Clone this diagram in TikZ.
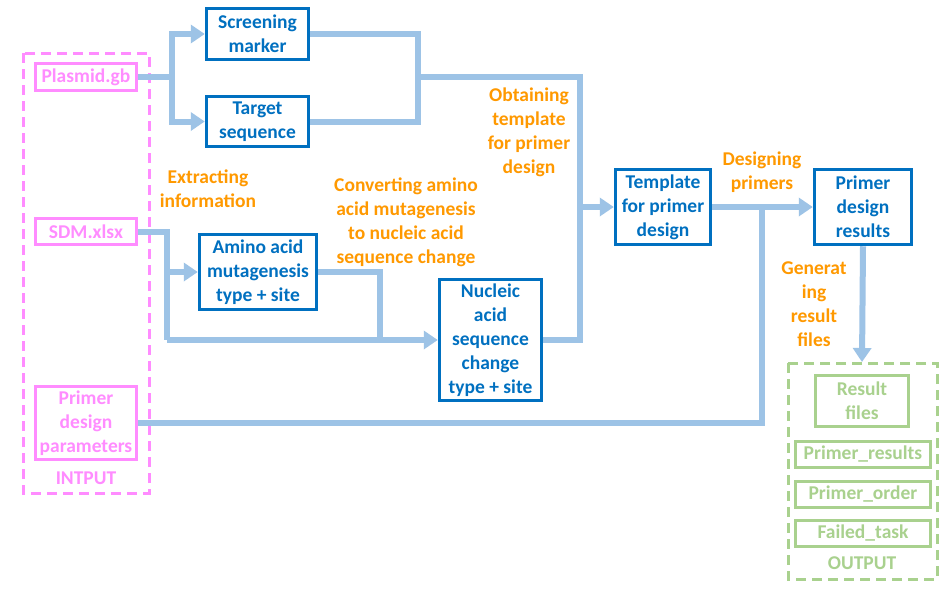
\documentclass[tikz,border=0pt]{standalone}
\usepackage{fontspec}
\setmainfont{Carlito}
\usetikzlibrary{arrows.meta}
\definecolor{nblue}{HTML}{0070C0}
\definecolor{lblue}{HTML}{9DC3E6}
\definecolor{mypink}{HTML}{FF8CFF}
\definecolor{mygreen}{HTML}{A9D18E}
\definecolor{myorange}{HTML}{FF9900}
\tikzset{
  txt/.style={font=\bfseries\fontsize{19.5}{24}\selectfont, align=center, inner sep=0pt},
  bbox/.style={txt, draw=nblue, line width=3.5pt, text=nblue},
  pbox/.style={txt, draw=mypink, line width=3.5pt, text=mypink},
  gbox/.style={txt, draw=mygreen, line width=3.5pt, text=mygreen},
  olab/.style={txt, text=myorange},
  conn/.style={draw=lblue, line width=6pt},
  arr/.style={conn, -{Triangle[length=14pt,width=18pt]}},
}
\begin{document}
\begin{tikzpicture}[x=1pt,y=-1pt]
\useasboundingbox[fill=white] (0,0) rectangle (950,592);
% dashed containers
\draw[mypink, line width=3pt, dash pattern=on 10pt off 6pt] (23,53) rectangle (149,493);
\draw[mygreen, line width=3pt, dash pattern=on 10pt off 6pt] (788,363) rectangle (937,579);
% input nodes
\node[pbox, minimum width=101, minimum height=27] (plasmid) at (86,77) {Plasmid.gb};
\node[pbox, minimum width=101, minimum height=26] (sdm) at (86,231.5) {SDM.xlsx};
\node[pbox, minimum width=101, minimum height=73] (params) at (86,423) {Primer\\design\\parameters};
\node[txt, text=mypink] (inlab) at (86,478) {INTPUT};
% process nodes
\node[bbox, minimum width=102, minimum height=51] (screen) at (257.5,34) {Screening\\marker};
\node[bbox, minimum width=102, minimum height=50] (target) at (257.5,121.5) {Target\\sequence};
\node[bbox, minimum width=117, minimum height=75] (amino) at (258,272) {Amino acid\\mutagenesis\\type + site};
\node[bbox, minimum width=102, minimum height=121] (nucleic) at (490.5,340) {Nucleic\\acid\\sequence\\change\\type + site};
\node[bbox, minimum width=95, minimum height=75] (templ) at (663,207) {Template\\for primer\\design};
\node[bbox, minimum width=97, minimum height=75] (results) at (863,207) {Primer\\design\\results};
% output nodes
\node[gbox, minimum width=93, minimum height=51] (rfiles) at (862,401) {Result\\files};
\node[gbox, minimum width=135, minimum height=26] (presults) at (863,454.5) {Primer\_results};
\node[gbox, minimum width=135, minimum height=26] (porder) at (863,494.5) {Primer\_order};
\node[gbox, minimum width=135, minimum height=26] (failed) at (863,533.5) {Failed\_task};
\node[txt, text=mygreen] (outlab) at (862,563) {OUTPUT};
% orange labels
\node[olab] (l1) at (208,189) {Extracting\\information};
\node[olab] (l2) at (406,222) {Converting amino\\acid mutagenesis\\to nucleic acid\\sequence change};
\node[olab] (l3) at (529,132) {Obtaining\\template\\for primer\\design};
\node[olab] (l4) at (762,172) {Designing\\primers};
\node[olab] (l5) at (814,304) {Generat\\ing\\result\\files};
% junctions
\coordinate (j1) at (172,77);
\coordinate (j2) at (418,77);
\coordinate (j3) at (580,77);
\coordinate (j4) at (167,232);
\coordinate (j5) at (167,340);
\coordinate (j6) at (380,340);
\coordinate (j7) at (762,209);
\coordinate (j8) at (580,340);
% connectors
\draw[conn] (plasmid.east) -- (j1);
\draw[arr] (j1) |- (screen.west);
\draw[arr] (j1) |- (target.west);
\draw[conn] (screen.east) -| (j2) |- (target.east);
\draw[conn] (j2) -- (j3) -- (j8) -- (nucleic.east);
\draw[arr] (templ.west -| j3) -- (templ.west);
\draw[conn] (sdm.east) -| (j5);
\draw[arr] (amino.west -| j4) -- (amino.west);
\draw[arr] (j5) -- (nucleic.west);
\draw[conn] (amino.east) -| (j6);
\draw[arr] (templ.east) -- (results.west);
\draw[conn] (j7) |- (params.east);
\draw[arr] (results.south) -- (rfiles.north |- 0,362);
\end{tikzpicture}
\end{document}
